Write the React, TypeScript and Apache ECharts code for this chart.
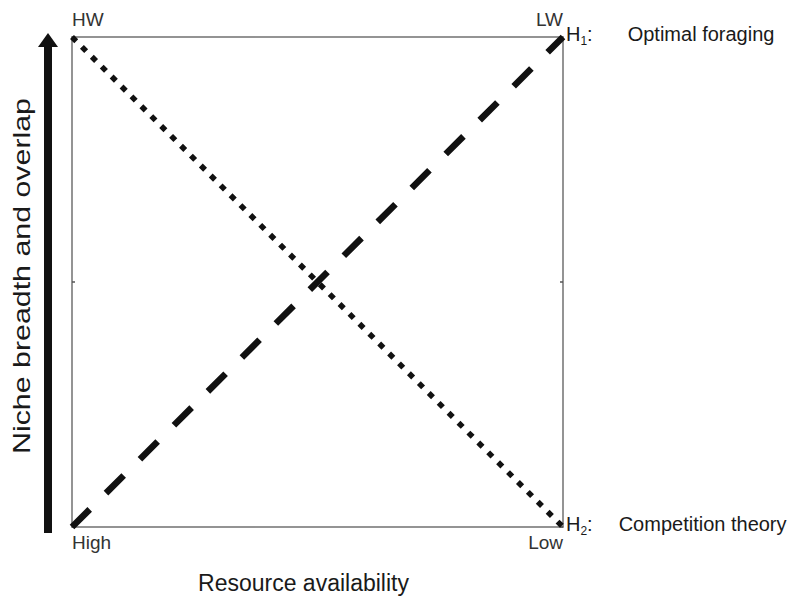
import React, { useEffect, useRef } from "react";
import * as echarts from "echarts";

const xBottomLabels = ["High", "Low"];
const xTopLabels = ["HW", "LW"];
const xTitle = "Resource availability";
const yTitle = "Niche breadth and overlap";
const h1Points: [number, number][] = [[0, 0], [1, 1]];
const h2Points: [number, number][] = [[0, 1], [1, 0]];
const h1Name = "Optimal foraging";
const h2Name = "Competition theory";

const FONT = "'Liberation Sans', Arial, sans-serif";
const INK = "#1a1a1a";

export default function App() {
  const ref = useRef<HTMLDivElement>(null);
  useEffect(() => {
    if (!ref.current) return;
    const chart = echarts.init(ref.current, null, { renderer: "svg" });
    const boxLine = { show: true, onZero: false, lineStyle: { color: "#707070", width: 1.5 } };
    const endLabel = (sub: string, text: string, gap: number, dy: number) => ({
      show: true,
      distance: 3,
      offset: [0, dy],
      formatter: `{h|H}{s|${sub}}{h|:}{g|}{t|${text}}`,
      rich: {
        h: { fontSize: 20, color: INK, fontFamily: FONT },
        s: { fontSize: 12, color: INK, fontFamily: FONT, padding: [14, 0, 0, 0] },
        g: { width: gap },
        t: { fontSize: 20, color: INK, fontFamily: FONT },
      },
    });
    const tickLabel = (labels: string[], margin: number) => ({
      margin, fontSize: 19, color: "#333", fontFamily: FONT,
      alignMinLabel: "left", alignMaxLabel: "right",
      formatter: (v: number) => labels[Math.round(v)],
    });
    chart.setOption({
      animation: false,
      grid: { left: 72, top: 37, width: 491, height: 493 },
      xAxis: [
        {
          type: "value", min: 0, max: 1, interval: 1, position: "bottom",
          axisLine: boxLine, axisTick: { show: false }, splitLine: { show: false },
          name: xTitle, nameLocation: "middle", nameGap: 44,
          nameTextStyle: { fontSize: 23, color: INK, fontFamily: FONT, padding: [0, 28, 0, 0] },
          axisLabel: tickLabel(xBottomLabels, 6),
        },
        {
          type: "value", min: 0, max: 1, interval: 1, position: "top",
          axisLine: boxLine, axisTick: { show: false }, splitLine: { show: false },
          axisLabel: tickLabel(xTopLabels, 8),
        },
      ],
      yAxis: [
        {
          type: "value", min: 0, max: 1, interval: 0.5, position: "left",
          axisLine: boxLine, splitLine: { show: false },
          axisTick: { show: true, inside: true, length: 3, lineStyle: { color: "#555", width: 1.5 } },
          axisLabel: { show: false },
        },
        {
          type: "value", min: 0, max: 1, interval: 0.5, position: "right",
          axisLine: boxLine, splitLine: { show: false },
          axisTick: { show: true, inside: true, length: 3, lineStyle: { color: "#555", width: 1.5 } },
          axisLabel: { show: false },
        },
      ],
      series: [
        {
          type: "line", name: "H1", data: h1Points,
          showSymbol: false, symbol: "none",
          lineStyle: { color: "#111", width: 6.5, type: [25, 23], cap: "butt" },
          endLabel: endLabel("1", h1Name, 35, -3),
        },
        {
          type: "line", name: "H2", data: h2Points,
          showSymbol: false, symbol: "none",
          lineStyle: { color: "#111", width: 5.5, type: [6, 8], cap: "butt" },
          endLabel: endLabel("2", h2Name, 26, -3),
        },
      ],
      graphic: [
        { type: "rect", shape: { x: 44, y: 44, width: 8, height: 489 }, style: { fill: "#111" } },
        { type: "polygon", shape: { points: [[48, 33], [38, 47], [58, 47]] }, style: { fill: "#111" } },
        {
          type: "text", x: 22, y: 276, rotation: Math.PI / 2, scaleX: 1.32,
          style: { text: yTitle, fontSize: 23, fontFamily: FONT, fill: INK, align: "center", verticalAlign: "middle" },
        },
      ],
    });
    return () => chart.dispose();
  }, []);
  return <div ref={ref} style={{ width: 798, height: 599, position: "absolute", left: 0, top: 0 }} />;
}
